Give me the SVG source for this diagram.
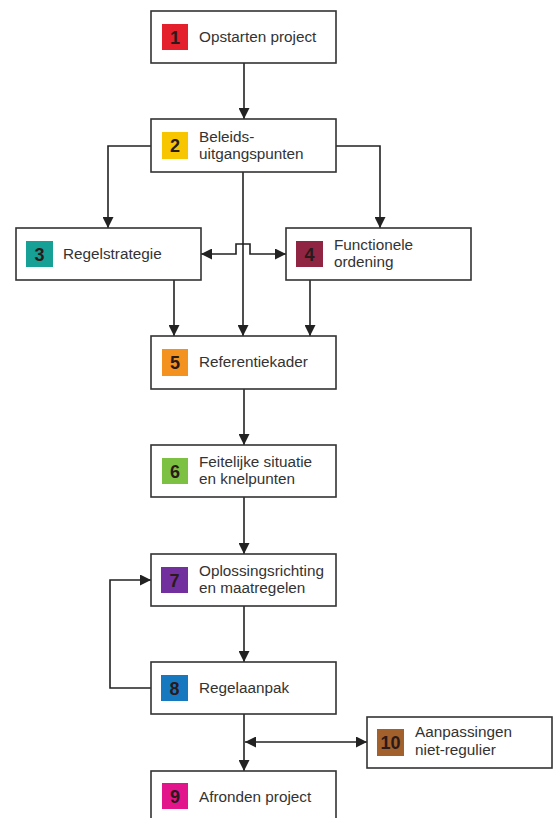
<svg xmlns="http://www.w3.org/2000/svg" width="555" height="818" viewBox="0 0 555 818">
<style>
.box{fill:#fff;stroke:#333;stroke-width:1.6}
.lbl{font-family:"Liberation Sans",Arial,sans-serif;font-size:15.3px;fill:#333}
.num{font-family:"Liberation Sans",Arial,sans-serif;font-size:18px;font-weight:bold;fill:#2a1a1a;text-anchor:middle}
.con{fill:none;stroke:#222;stroke-width:1.6}
</style>
<defs>
<marker id="ah" viewBox="0 0 10 10" refX="10" refY="5" markerWidth="11" markerHeight="11" markerUnits="userSpaceOnUse" orient="auto-start-reverse">
<path d="M0,0 L10,5 L0,10 z" fill="#222"/>
</marker>
</defs>
<rect width="555" height="818" fill="#fff"/>
<g id="connectors">
<path class="con" d="M244,63 V119" marker-end="url(#ah)"/>
<path class="con" d="M151,146 H108 V228" marker-end="url(#ah)"/>
<path class="con" d="M336,146 H380 V228" marker-end="url(#ah)"/>
<path class="con" d="M243,172 V336" marker-end="url(#ah)"/>
<path class="con" d="M201,254 H236 V244 H250 V254 H286" marker-start="url(#ah)" marker-end="url(#ah)"/>
<path class="con" d="M174,280 V336" marker-end="url(#ah)"/>
<path class="con" d="M310,280 V336" marker-end="url(#ah)"/>
<path class="con" d="M244,389 V445" marker-end="url(#ah)"/>
<path class="con" d="M244,497 V554" marker-end="url(#ah)"/>
<path class="con" d="M244,606 V662" marker-end="url(#ah)"/>
<path class="con" d="M151,688 H110 V580 H151" marker-end="url(#ah)"/>
<path class="con" d="M244,714 V771" marker-end="url(#ah)"/>
<path class="con" d="M245,742 H367" marker-start="url(#ah)" marker-end="url(#ah)"/>
</g>
<g id="node1">
<rect class="box" x="151" y="11" width="185" height="52"/>
<rect x="162" y="24" width="26" height="26" fill="#e3202b"/>
<text class="num" x="175" y="43.5">1</text>
<text class="lbl" x="199" y="42">Opstarten project</text>
</g>
<g id="node2">
<rect class="box" x="151" y="119" width="185" height="53"/>
<rect x="162" y="132" width="26" height="27" fill="#f7c600"/>
<text class="num" x="175" y="152">2</text>
<text class="lbl" x="199" y="141.5">Beleids-</text>
<text class="lbl" x="199" y="158.5">uitgangspunten</text>
</g>
<g id="node3">
<rect class="box" x="16" y="228" width="185" height="52"/>
<rect x="26" y="241" width="27" height="26" fill="#16a096"/>
<text class="num" x="39.5" y="260.5">3</text>
<text class="lbl" x="63" y="259">Regelstrategie</text>
</g>
<g id="node4">
<rect class="box" x="286" y="228" width="185" height="52"/>
<rect x="296" y="241" width="27" height="26" fill="#8f2542"/>
<text class="num" x="309.5" y="260.5">4</text>
<text class="lbl" x="334" y="250">Functionele</text>
<text class="lbl" x="334" y="267">ordening</text>
</g>
<g id="node5">
<rect class="box" x="151" y="336" width="185" height="53"/>
<rect x="162" y="349" width="26" height="27" fill="#f3921f"/>
<text class="num" x="175" y="369">5</text>
<text class="lbl" x="199" y="367">Referentiekader</text>
</g>
<g id="node6">
<rect class="box" x="151" y="445" width="185" height="52"/>
<rect x="162" y="458" width="26" height="26" fill="#7dc143"/>
<text class="num" x="175" y="477.5">6</text>
<text class="lbl" x="199" y="466.5">Feitelijke situatie</text>
<text class="lbl" x="199" y="484">en knelpunten</text>
</g>
<g id="node7">
<rect class="box" x="151" y="554" width="185" height="52"/>
<rect x="161" y="567" width="27" height="26" fill="#722f9e"/>
<text class="num" x="174.5" y="586.5">7</text>
<text class="lbl" x="199" y="576">Oplossingsrichting</text>
<text class="lbl" x="199" y="593">en maatregelen</text>
</g>
<g id="node8">
<rect class="box" x="151" y="662" width="185" height="52"/>
<rect x="161" y="675" width="27" height="26" fill="#1679c0"/>
<text class="num" x="174.5" y="694.5">8</text>
<text class="lbl" x="199" y="693">Regelaanpak</text>
</g>
<g id="node9">
<rect class="box" x="151" y="771" width="185" height="52"/>
<rect x="162" y="783" width="26" height="26" fill="#e2158d"/>
<text class="num" x="175" y="802.5">9</text>
<text class="lbl" x="199" y="802">Afronden project</text>
</g>
<g id="node10">
<rect class="box" x="367" y="717" width="185" height="51"/>
<rect x="377" y="729" width="27" height="27" fill="#a2602d"/>
<text class="num" x="390.5" y="749">10</text>
<text class="lbl" x="415" y="737">Aanpassingen</text>
<text class="lbl" x="415" y="754.5">niet-regulier</text>
</g>
</svg>
